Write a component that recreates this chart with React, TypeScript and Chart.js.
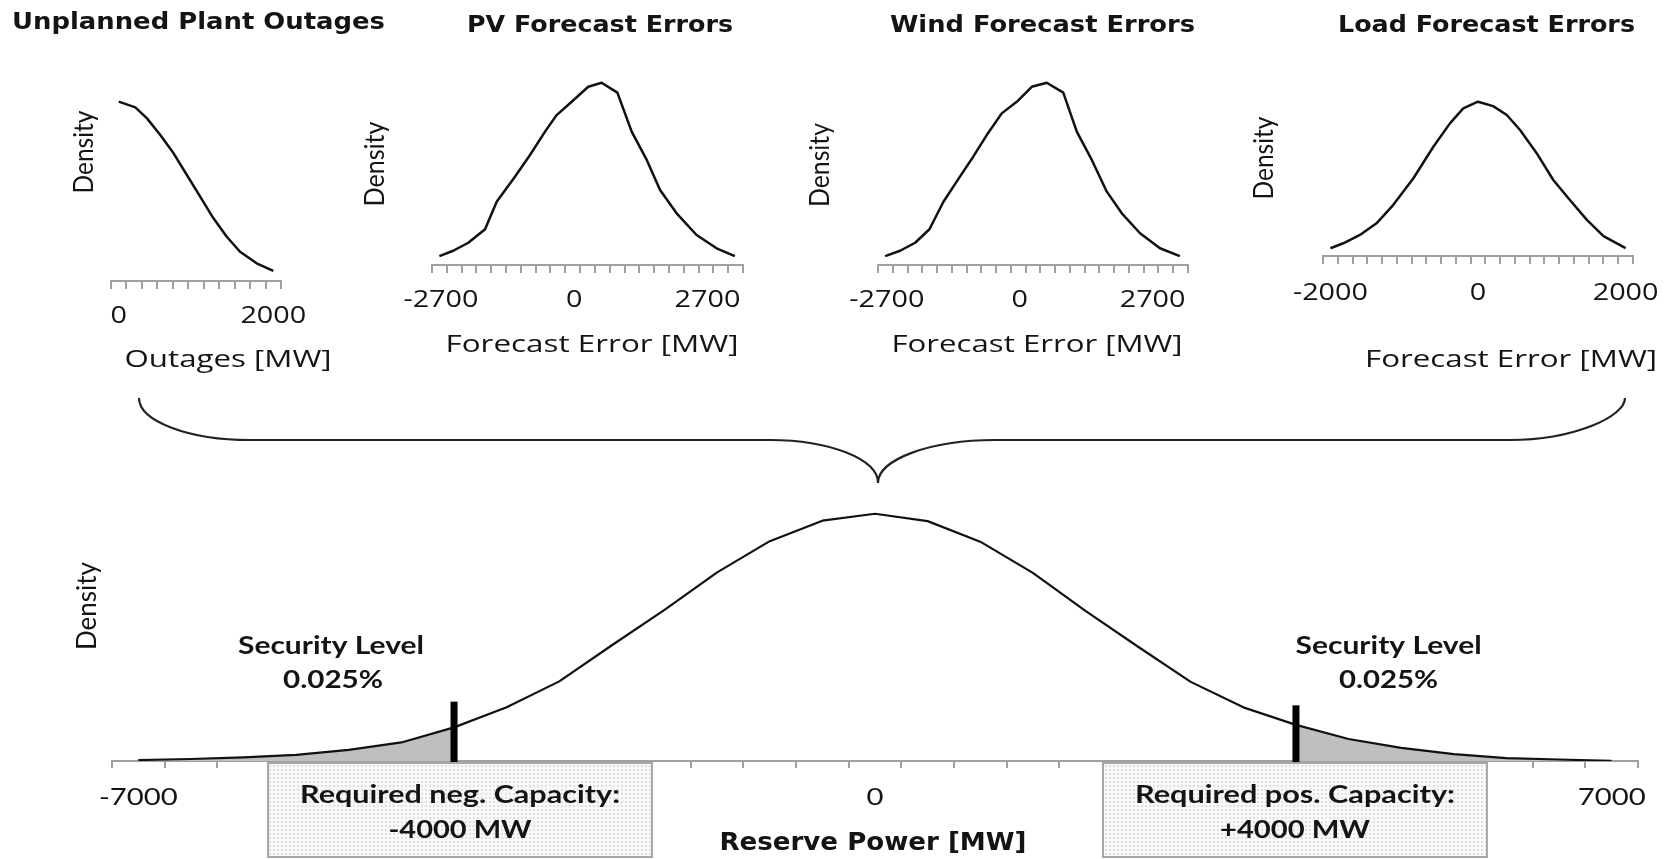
import React, { useEffect, useRef } from "react";
import { Chart, registerables } from "chart.js";

Chart.register(...registerables);

const PAGE_W = 1674;
const PAGE_H = 859;
const AXIS_GRAY = "#a0a0a0";
const INK = "#141414";

// ---------------- data ----------------
// Unplanned plant outages (relative density)
const OUTAGE_MW = [0, 215, 366, 538, 710, 882, 1054, 1226, 1398, 1570, 1785, 2000];
const OUTAGE_DENSITY = [0.944, 0.914, 0.856, 0.768, 0.672, 0.558, 0.444, 0.33, 0.233, 0.154, 0.093, 0.053];
const OUTAGE_TICK_LABELS = [0, 2000];

// PV forecast errors
const PV_ERROR_MW = [-2730, -2450, -2145, -1805, -1570, -1200, -895, -590, -355, -50, 285, 555, 875, 1165, 1470, 1740, 2075, 2480, 2885, 3255];
const PV_DENSITY = [0.047, 0.075, 0.117, 0.188, 0.333, 0.465, 0.579, 0.702, 0.789, 0.859, 0.938, 0.959, 0.907, 0.702, 0.553, 0.395, 0.272, 0.158, 0.088, 0.047];
const PV_TICK_LABELS = [-2700, 0, 2700];

// Wind forecast errors
const WIND_ERROR_MW = [-2735, -2430, -2125, -1835, -1550, -1215, -945, -670, -365, -60, 245, 550, 885, 1160, 1465, 1770, 2075, 2445, 2850, 3255];
const WIND_DENSITY = [0.047, 0.075, 0.117, 0.188, 0.333, 0.465, 0.57, 0.684, 0.798, 0.859, 0.938, 0.959, 0.907, 0.702, 0.553, 0.386, 0.272, 0.167, 0.088, 0.047];
const WIND_TICK_LABELS = [-2700, 0, 2700];

// Load forecast errors
const LOAD_ERROR_MW = [-2000, -1825, -1600, -1375, -1150, -875, -605, -380, -200, 0, 205, 390, 570, 795, 1020, 1245, 1475, 1700, 2000];
const LOAD_DENSITY = [0.041, 0.067, 0.111, 0.172, 0.268, 0.409, 0.575, 0.698, 0.777, 0.812, 0.789, 0.742, 0.663, 0.541, 0.4, 0.295, 0.19, 0.105, 0.041];
const LOAD_TICK_LABELS = [-2000, 0, 2000];

// Convolved reserve power distribution
const RESERVE_MW = [-7000, -6500, -6000, -5500, -5000, -4500, -4000, -3500, -3000, -2500, -2000, -1500, -1000, -500, 0, 500, 1000, 1500, 2000, 2500, 3000, 3500, 4000, 4500, 5000, 5500, 6000, 6500, 7000];
const RESERVE_DENSITY = [0.004, 0.008, 0.015, 0.025, 0.045, 0.075, 0.136, 0.217, 0.322, 0.468, 0.611, 0.763, 0.889, 0.972, 1.0, 0.97, 0.887, 0.761, 0.607, 0.462, 0.32, 0.217, 0.146, 0.089, 0.053, 0.028, 0.012, 0.006, 0.001];
const RESERVE_TICK_LABELS = [-7000, 0, 7000];
const REQUIRED_CAPACITY_MW = [-4000, 4000];
const LIMIT_MARK_TOP = [0.24, 0.225];
const LIMIT_MARK_BOTTOM = -0.02;
const SECURITY_LEVEL = "0.025%";
const CAPACITY_TEXT = ["Required neg. Capacity:", "Required pos. Capacity:"];
const CAPACITY_VALUE_TEXT = ["-4000 MW", "+4000 MW"];

// ---------------- helpers ----------------
type TextItem = {
  text: string;
  x: number;
  y: number;
  font: string;
  width?: number;
  sx?: number;
  rotate?: boolean;
};

function drawText(ctx: CanvasRenderingContext2D, t: TextItem) {
  ctx.save();
  ctx.font = t.font;
  ctx.fillStyle = INK;
  ctx.textAlign = "center";
  ctx.textBaseline = t.rotate ? "middle" : "alphabetic";
  const natural = ctx.measureText(t.text).width;
  const sx = t.width ? t.width / natural : t.sx || 1;
  ctx.translate(t.x, t.y);
  if (t.rotate) ctx.rotate(-Math.PI / 2);
  ctx.scale(sx, 1);
  ctx.fillText(t.text, 0, 0);
  ctx.restore();
}

const TITLE_FONT = "bold 23px 'DejaVu Sans'";
const SMALL_AXIS_FONT = "23px 'Open Sans'";
const DENSITY_FONT = "26px Lato";
const BOTTOM_BOLD = "bold 25px Lato";

type Spec = {
  id: string;
  xs: number[];
  ys: number[];
  xMin: number;
  xMax: number;
  step: number;
  yMax: number;
  area: { left: number; right: number; top: number; axisY: number };
  tickLength: number;
  tickLabels: number[];
  tickLabelY: number;
  tickFont: string;
  tickSx: number;
  lineWidth: number;
  texts: TextItem[];
  extra?: any[];
  decorate?: (ctx: CanvasRenderingContext2D, chart: any) => void;
};

const SPECS: Spec[] = [
  {
    id: "outages",
    xs: OUTAGE_MW,
    ys: OUTAGE_DENSITY,
    xMin: -100,
    xMax: 2100,
    step: 200,
    yMax: 1,
    area: { left: 111, right: 281, top: 91, axisY: 281 },
    tickLength: 8,
    tickLabels: OUTAGE_TICK_LABELS,
    tickLabelY: 323,
    tickFont: SMALL_AXIS_FONT,
    tickSx: 1.25,
    lineWidth: 2.5,
    texts: [
      { text: "Unplanned Plant Outages", x: 198.5, y: 28.5, font: TITLE_FONT, width: 373 },
      { text: "Density", x: 85, y: 152, font: DENSITY_FONT, width: 83, rotate: true },
      { text: "Outages [MW]", x: 228, y: 367, font: SMALL_AXIS_FONT, width: 207 },
    ],
  },
  {
    id: "pv",
    xs: PV_ERROR_MW,
    ys: PV_DENSITY,
    xMin: -2880,
    xMax: 3420,
    step: 300,
    yMax: 1,
    area: { left: 432, right: 743, top: 75, axisY: 265 },
    tickLength: 8,
    tickLabels: PV_TICK_LABELS,
    tickLabelY: 307,
    tickFont: SMALL_AXIS_FONT,
    tickSx: 1.25,
    lineWidth: 2.5,
    texts: [
      { text: "PV Forecast Errors", x: 600, y: 31.5, font: TITLE_FONT, width: 266 },
      { text: "Density", x: 376, y: 164, font: DENSITY_FONT, width: 85, rotate: true },
      { text: "Forecast Error [MW]", x: 592, y: 351.5, font: SMALL_AXIS_FONT, width: 293 },
    ],
  },
  {
    id: "wind",
    xs: WIND_ERROR_MW,
    ys: WIND_DENSITY,
    xMin: -2880,
    xMax: 3420,
    step: 300,
    yMax: 1,
    area: { left: 878, right: 1188, top: 75, axisY: 265 },
    tickLength: 8,
    tickLabels: WIND_TICK_LABELS,
    tickLabelY: 307,
    tickFont: SMALL_AXIS_FONT,
    tickSx: 1.25,
    lineWidth: 2.5,
    texts: [
      { text: "Wind Forecast Errors", x: 1042.5, y: 31.5, font: TITLE_FONT, width: 305 },
      { text: "Density", x: 821, y: 165, font: DENSITY_FONT, width: 84, rotate: true },
      { text: "Forecast Error [MW]", x: 1037, y: 352, font: SMALL_AXIS_FONT, width: 291 },
    ],
  },
  {
    id: "load",
    xs: LOAD_ERROR_MW,
    ys: LOAD_DENSITY,
    xMin: -2100,
    xMax: 2100,
    step: 200,
    yMax: 1,
    area: { left: 1323, right: 1633, top: 66, axisY: 256 },
    tickLength: 8,
    tickLabels: LOAD_TICK_LABELS,
    tickLabelY: 300,
    tickFont: SMALL_AXIS_FONT,
    tickSx: 1.25,
    lineWidth: 2.5,
    texts: [
      { text: "Load Forecast Errors", x: 1486.5, y: 31.5, font: TITLE_FONT, width: 297 },
      { text: "Density", x: 1265, y: 158, font: DENSITY_FONT, width: 83, rotate: true },
      { text: "Forecast Error [MW]", x: 1511, y: 366.5, font: SMALL_AXIS_FONT, width: 292 },
    ],
  },
  {
    id: "reserve",
    xs: RESERVE_MW,
    ys: RESERVE_DENSITY,
    xMin: -7250,
    xMax: 7250,
    step: 500,
    yMax: 1.1,
    area: { left: 112, right: 1638, top: 489, axisY: 761 },
    tickLength: 7,
    tickLabels: RESERVE_TICK_LABELS,
    tickLabelY: 805,
    tickFont: "24px Lato",
    tickSx: 1.22,
    lineWidth: 2.2,
    texts: [
      { text: "Density", x: 88, y: 606, font: DENSITY_FONT, width: 88, rotate: true },
      { text: "Reserve Power [MW]", x: 873, y: 849.5, font: "bold 24px 'DejaVu Sans'", width: 307 },
      { text: "Security Level", x: 331, y: 654, font: BOTTOM_BOLD, width: 186 },
      { text: SECURITY_LEVEL, x: 333, y: 688, font: BOTTOM_BOLD, width: 100 },
      { text: "Security Level", x: 1388.6, y: 654, font: BOTTOM_BOLD, width: 186 },
      { text: SECURITY_LEVEL, x: 1388.6, y: 688, font: BOTTOM_BOLD, width: 99 },
    ],
    extra: [
      {
        // left tail
        data: RESERVE_MW.map((x, i) => ({ x, y: RESERVE_DENSITY[i] })).filter((p) => p.x <= REQUIRED_CAPACITY_MW[0]),
        borderWidth: 0,
        backgroundColor: "#bfbfbf",
        fill: "origin",
        pointRadius: 0,
        tension: 0,
        order: 2,
      },
      {
        // right tail
        data: RESERVE_MW.map((x, i) => ({ x, y: RESERVE_DENSITY[i] })).filter((p) => p.x >= REQUIRED_CAPACITY_MW[1]),
        borderWidth: 0,
        backgroundColor: "#bfbfbf",
        fill: "origin",
        pointRadius: 0,
        tension: 0,
        order: 2,
      },
      ...REQUIRED_CAPACITY_MW.map((v, i) => ({
        data: [
          { x: v, y: LIMIT_MARK_BOTTOM },
          { x: v, y: LIMIT_MARK_TOP[i] },
        ],
        borderColor: "#000",
        borderWidth: 7,
        borderCapStyle: "butt",
        pointRadius: 0,
        fill: false,
        clip: false,
        order: 0,
      })),
    ],
    decorate: (ctx, chart) => {
      // curly brace joining the four inputs
      const k = 0.552;
      ctx.save();
      ctx.strokeStyle = "#222";
      ctx.lineWidth = 2.2;
      ctx.beginPath();
      ctx.moveTo(139, 398);
      ctx.bezierCurveTo(139, 398 + 42 * k, 250 - 111 * k, 440, 250, 440);
      ctx.lineTo(770, 440);
      ctx.bezierCurveTo(770 + 108 * k, 440, 878, 483 - 43 * k, 878, 483);
      ctx.bezierCurveTo(878, 483 - 43 * k, 995 - 117 * k, 440, 995, 440);
      ctx.lineTo(1510, 440);
      ctx.bezierCurveTo(1510 + 115 * k, 440, 1625, 440 - 42 * k, 1625, 398);
      ctx.stroke();
      ctx.restore();

      // dotted capacity boxes
      const pc = document.createElement("canvas");
      pc.width = 4;
      pc.height = 4;
      const p = pc.getContext("2d")!;
      p.fillStyle = "#f9f9f9";
      p.fillRect(0, 0, 4, 4);
      p.fillStyle = "#e0e0e0";
      p.fillRect(1, 1, 2, 2);
      const pattern = ctx.createPattern(pc, "repeat")!;
      const xs = chart.scales.x;
      const offsets = [6, -1];
      REQUIRED_CAPACITY_MW.forEach((v, i) => {
        const cx = xs.getPixelForValue(v) + offsets[i];
        const w = 384;
        const top = 763;
        const bottom = 857;
        ctx.save();
        ctx.fillStyle = pattern;
        ctx.fillRect(cx - w / 2, top, w, bottom - top);
        ctx.strokeStyle = "#a6a6a6";
        ctx.lineWidth = 2;
        ctx.strokeRect(cx - w / 2, top, w, bottom - top);
        ctx.restore();
        drawText(ctx, { text: CAPACITY_TEXT[i], x: cx, y: 803, font: BOTTOM_BOLD, width: 320 });
        drawText(ctx, { text: CAPACITY_VALUE_TEXT[i], x: cx, y: 838, font: BOTTOM_BOLD, width: i === 0 ? 143 : 150 });
      });
    },
  },
];

function buildChart(canvas: HTMLCanvasElement, spec: Spec) {
  const a = spec.area;
  const tickValues: number[] = [];
  for (let v = spec.xMin; v <= spec.xMax + 1e-6; v += spec.step) tickValues.push(v);

  const datasets: any[] = [
    {
      data: spec.xs.map((x, i) => ({ x, y: spec.ys[i] })),
      borderColor: "#111",
      borderWidth: spec.lineWidth,
      borderJoinStyle: "round",
      pointRadius: 0,
      tension: 0,
      fill: false,
      order: 1,
    },
    ...(spec.extra || []),
  ];

  const annotator = {
    id: "annotate_" + spec.id,
    afterDraw(chart: any) {
      const ctx = chart.ctx as CanvasRenderingContext2D;
      if (spec.decorate) spec.decorate(ctx, chart);
      for (const t of spec.texts) drawText(ctx, t);
      const xs = chart.scales.x;
      for (const v of spec.tickLabels) {
        drawText(ctx, {
          text: String(v),
          x: xs.getPixelForValue(v),
          y: spec.tickLabelY,
          font: spec.tickFont,
          sx: spec.tickSx,
        });
      }
    },
  };

  return new Chart(canvas, {
    type: "line",
    data: { datasets },
    options: {
      responsive: false,
      animation: false,
      devicePixelRatio: 1,
      events: [],
      layout: {
        padding: {
          left: a.left,
          right: PAGE_W - a.right,
          top: a.top,
          bottom: PAGE_H - a.axisY - spec.tickLength,
        },
      },
      plugins: {
        legend: { display: false },
        tooltip: { enabled: false },
        title: { display: false },
      },
      scales: {
        x: {
          type: "linear",
          min: spec.xMin,
          max: spec.xMax,
          afterBuildTicks: (scale: any) => {
            scale.ticks = tickValues.map((value) => ({ value }));
          },
          ticks: { display: false },
          grid: {
            display: true,
            drawOnChartArea: false,
            drawTicks: true,
            tickLength: spec.tickLength,
            color: AXIS_GRAY,
            lineWidth: 2,
          },
          border: { display: true, color: AXIS_GRAY, width: 2 },
        },
        y: { display: false, min: 0, max: spec.yMax },
      },
    } as any,
    plugins: [annotator],
  });
}

export default function App() {
  const canvases = useRef<(HTMLCanvasElement | null)[]>([]);

  useEffect(() => {
    document.body.style.margin = "0";
    const charts = SPECS.map((spec, i) => buildChart(canvases.current[i] as HTMLCanvasElement, spec));
    return () => charts.forEach((c) => c.destroy());
  }, []);

  return (
    <div style={{ position: "relative", width: PAGE_W, height: PAGE_H, background: "#fff", overflow: "hidden" }}>
      {SPECS.map((s, i) => (
        <canvas
          key={s.id}
          ref={(el) => {
            canvases.current[i] = el;
          }}
          width={PAGE_W}
          height={PAGE_H}
          style={{ position: "absolute", left: 0, top: 0, width: PAGE_W, height: PAGE_H }}
        />
      ))}
    </div>
  );
}
